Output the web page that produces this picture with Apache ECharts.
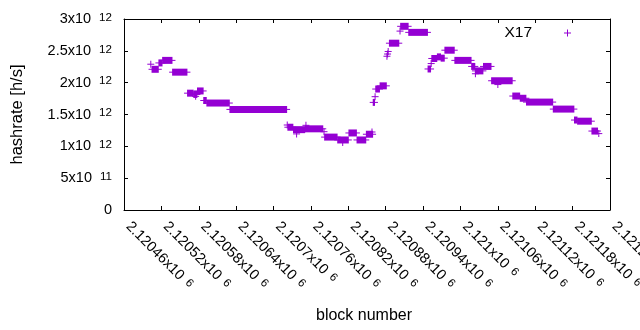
<!DOCTYPE html>
<html>
<head>
<meta charset="utf-8">
<script src="https://cdn.jsdelivr.net/npm/echarts@6/dist/echarts.min.js"></script>
<style>
  html, body { margin: 0; padding: 0; background: #fff; }
  #chart { width: 640px; height: 330px; }
</style>
</head>
<body>
<div id="chart"></div>
<script type="text/javascript">
// runs of blocks with the same hashrate estimate (start block, end block, h/s)
var segStart = [2120503, 2120505, 2120516, 2120522, 2120538, 2120562, 2120572, 2120575, 2120578, 2120588,
                2120593, 2120630, 2120722, 2120723, 2120732, 2120737, 2120751, 2120752, 2120781, 2120782,
                2120803, 2120811, 2120821, 2120834, 2120849, 2120858, 2120860, 2120863, 2120864, 2120871,
                2120882, 2120883, 2120884, 2120886, 2120903, 2120904, 2120917, 2120948, 2120953, 2120954,
                2120963, 2120969, 2120975, 2120991, 2121018, 2121024, 2121024, 2121037, 2121050, 2121060,
                2121084, 2121096, 2121106, 2121149, 2121183, 2121188, 2121211, 2121222];
var segEnd   = [2120503, 2120515, 2120521, 2120537, 2120561, 2120571, 2120577, 2120575, 2120587, 2120592,
                2120629, 2120721, 2120722, 2120731, 2120750, 2120737, 2120779, 2120752, 2120781, 2120802,
                2120820, 2120811, 2120833, 2120848, 2120859, 2120858, 2120862, 2120863, 2120870, 2120881,
                2120882, 2120883, 2120884, 2120901, 2120903, 2120916, 2120947, 2120952, 2120953, 2120962,
                2120968, 2120974, 2120990, 2121017, 2121023, 2121036, 2121024, 2121049, 2121083, 2121060,
                2121095, 2121105, 2121148, 2121182, 2121187, 2121210, 2121220, 2121222];
var segRate  = [2.29e12, 2.21e12, 2.31e12, 2.35e12, 2.165e12, 1.835e12, 1.815e12, 1.785e12, 1.87e12, 1.72e12,
                1.68e12, 1.58e12, 1.335e12, 1.30e12, 1.262e12, 1.195e12, 1.275e12, 1.33e12, 1.23e12, 1.145e12,
                1.10e12, 1.06e12, 1.21e12, 1.10e12, 1.19e12, 1.225e12, 1.69e12, 1.78e12, 1.90e12, 1.95e12,
                2.415e12, 2.45e12, 2.49e12, 2.62e12, 2.81e12, 2.885e12, 2.79e12, 2.215e12, 2.30e12, 2.38e12,
                2.405e12, 2.385e12, 2.51e12, 2.35e12, 2.255e12, 2.185e12, 2.14e12, 2.255e12, 2.03e12, 1.97e12,
                1.79e12, 1.755e12, 1.695e12, 1.585e12, 1.413e12, 1.395e12, 1.24e12, 1.20e12];

var xTicks = [2120460, 2120520, 2120580, 2120640, 2120700, 2120760, 2120820,
              2120880, 2120940, 2121000, 2121060, 2121120, 2121180, 2121240];
var yTicks = [0, 5e11, 1e12, 1.5e12, 2e12, 2.5e12, 3e12];

var purple = '#9400d3';
var font = 'Liberation Sans, Arial, sans-serif';

function sci(v) {
    if (v === 0) return '{m|0}';
    var e = Math.floor(Math.log10(v) + 1e-9);
    var m = parseFloat((v / Math.pow(10, e)).toFixed(6));
    return '{m|' + m + 'x10}{s|' + e + '}';
}
function richFor(size, lead, gap) {
    return {
        m: { fontSize: size, fontFamily: font, color: '#000', padding: [0, 0, 0, lead] },
        s: { fontSize: size * 0.8, fontFamily: font, color: '#000', verticalAlign: 'top', padding: [0, 0, 0, gap] }
    };
}

var segData = segStart.map(function (s, i) { return [s, segEnd[i], segRate[i]]; });

var axisLine = { show: true, onZero: false, lineStyle: { color: '#000', width: 1 } };
var axisTick = { show: true, inside: true, length: 4, lineStyle: { color: '#000', width: 1 } };

var option = {
    animation: false,
    backgroundColor: '#fff',
    textStyle: { fontFamily: font },
    grid: { left: 124, top: 19, width: 486, height: 191, containLabel: false, outerBoundsMode: 'none' },
    legend: {
        data: [{ name: 'X17', icon: 'path://M0,3L7,3L7,4L0,4Z M3,0L4,0L4,7L3,7Z' }],
        align: 'right',
        right: 64,
        top: 20,
        itemWidth: 7,
        itemHeight: 7,
        textStyle: { fontSize: 15.5, color: '#000', fontFamily: font, padding: [0, 27, 0, 0] }
    },
    xAxis: [
        {
            type: 'value', position: 'bottom',
            min: xTicks[0], max: xTicks[xTicks.length - 1], interval: 60,
            axisLine: axisLine, axisTick: axisTick, splitLine: { show: false },
            axisLabel: { rotate: -45, margin: 10, formatter: sci, rich: richFor(14.5, 6, 6) },
            name: 'block number', nameLocation: 'middle', nameGap: 98,
            nameTextStyle: { fontSize: 16, color: '#000', fontFamily: font, padding: [0, 6, 0, 0] }
        },
        {
            type: 'value', position: 'top',
            min: xTicks[0], max: xTicks[xTicks.length - 1], interval: 60,
            axisLine: axisLine, axisTick: axisTick, splitLine: { show: false },
            axisLabel: { show: false }
        }
    ],
    yAxis: [
        {
            type: 'value', position: 'left',
            min: yTicks[0], max: yTicks[yTicks.length - 1], interval: 5e11,
            axisLine: axisLine, axisTick: axisTick, splitLine: { show: false },
            axisLabel: { margin: 12, formatter: sci, rich: richFor(14.5, 0, 8) },
            name: 'hashrate [h/s]', nameLocation: 'middle', nameGap: 98,
            nameTextStyle: { fontSize: 16.5, color: '#000', fontFamily: font }
        },
        {
            type: 'value', position: 'right',
            min: yTicks[0], max: yTicks[yTicks.length - 1], interval: 5e11,
            axisLine: axisLine, axisTick: axisTick, splitLine: { show: false },
            axisLabel: { show: false }
        }
    ],
    series: [
        {
            type: 'custom',
            name: 'X17',
            itemStyle: { color: purple },
            encode: { x: [0, 1], y: 2 },
            data: segData,
            renderItem: function (params, api) {
                var a = api.coord([api.value(0), api.value(2)]);
                var b = api.coord([api.value(1), api.value(2)]);
                var h = 3.5;
                return {
                    type: 'group',
                    children: [
                        { type: 'rect', shape: { x: a[0] - 0.5, y: a[1] - h, width: b[0] - a[0] + 1, height: 2 * h },
                          style: { fill: purple } },
                        { type: 'line', shape: { x1: a[0] - h, y1: a[1], x2: b[0] + h, y2: b[1] },
                          style: { stroke: purple, lineWidth: 1 } }
                    ]
                };
            }
        }
    ]
};

var myChart = echarts.init(document.getElementById('chart'));
myChart.setOption(option);
</script>
</body>
</html>
